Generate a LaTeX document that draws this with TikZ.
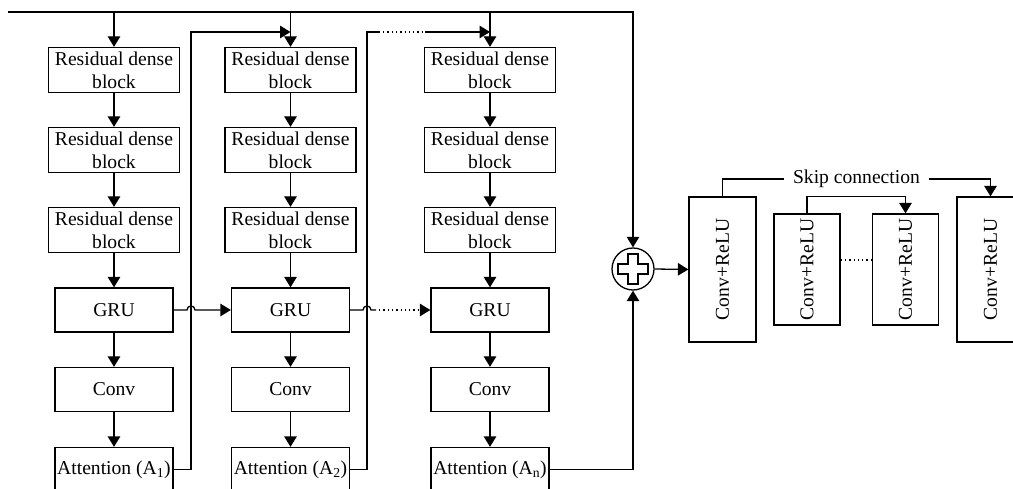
\documentclass[tikz,border=0pt]{standalone}
\usepackage{fontspec}
\setmainfont{Liberation Serif}
\usepackage{graphicx}
\usetikzlibrary{arrows.meta}
\begin{document}
\begin{tikzpicture}[x=1pt,y=-1pt, line width=1.3pt,
  >={Triangle[length=10.5pt,width=12.5pt]},
  box/.style={draw, line width=1.3pt, inner sep=0pt, align=center, font=\fontsize{19.6}{23}\selectfont},
  rdb/.style={box, minimum width=131pt, minimum height=45pt},
  blk/.style={box, minimum width=118pt, minimum height=44pt},
  vbig/.style={box, minimum width=67pt, minimum height=145pt},
  vsmall/.style={box, minimum width=66pt, minimum height=111pt},
  dots/.style={dash pattern=on 1.3pt off 3pt},
  lbl/.style={font=\fontsize{19.6}{23}\selectfont, inner sep=0pt}]
\clip (0,0) rectangle (1013,489);
% columns
\foreach \c/\x in {1/114,2/290.5,3/490}{
  \node[rdb] (r\c1) at (\x,70) {Residual dense\\block};
  \node[rdb] (r\c2) at (\x,150) {Residual dense\\block};
  \node[rdb] (r\c3) at (\x,230) {Residual dense\\block};
  \node[blk] (g\c) at (\x,310) {GRU};
  \node[blk] (c\c) at (\x,389.5) {Conv};
}
\node[blk] (a1) at (114,469.5) {Attention (A\textsubscript{1})};
\node[blk] (a2) at (290.5,469.5) {Attention (A\textsubscript{2})};
\node[blk] (a3) at (490,469.5) {Attention (A\textsubscript{n})};
\foreach \c in {1,2,3}{
  \draw[->] (r\c1) -- (r\c2);
  \draw[->] (r\c2) -- (r\c3);
  \draw[->] (r\c3) -- (g\c);
  \draw[->] (g\c) -- (c\c);
  \draw[->] (c\c) -- (a\c);
}
% adder
\node[circle, draw, line width=1.3pt, minimum size=42pt, inner sep=0pt] (plus) at (633,269) {};
\draw[line width=1.2pt, shift={(plus.center)}] (-5,-15) -- (5,-15) -- (5,-5) -- (15,-5) -- (15,5) -- (5,5) -- (5,15) -- (-5,15) -- (-5,5) -- (-15,5) -- (-15,-5) -- (-5,-5) -- cycle;
% top line
\coordinate (tl) at (8,12);
\draw[->] (tl) -| (plus);
\foreach \c in {1,2,3}{ \draw[->] (r\c1.north |- tl) -- (r\c1.north); }
% loops
\coordinate (lp1) at (191,32);
\coordinate (lp2) at (367,32);
\draw[->] (a1.east) -| (lp1) -- (lp1 -| r21.north);
\draw (a2.east) -| (lp2) -- (380,32);
\draw[dots] (383,32) -- (422,32);
\draw[->] (425,32) -- (lp2 -| r31.north);
% GRU chain
\draw[->] (g1.east) -- (187,310) .. controls (187,304.7) and (195,304.7) .. (195,310) -- (g2.west);
\draw (g2.east) -- (363,310) .. controls (363,304.7) and (371,304.7) .. (371,310) -- (376,310);
\coordinate (gd) at (420,310);
\draw[dots] (379,310) -- (gd);
\draw[->] (gd) -- (g3.west);
\draw[->] (a3.east) -| (plus.south);
% right part
\node[vbig] (v1) at (722.5,269.5) {\rotatebox{90}{Conv+ReLU}};
\node[vsmall] (v2) at (807,269.5) {\rotatebox{90}{Conv+ReLU}};
\node[vsmall] (v3) at (905.5,269.5) {\rotatebox{90}{Conv+ReLU}};
\node[vbig] (v4) at (990.5,269.5) {\rotatebox{90}{Conv+ReLU}};
\draw[->] (plus.east) -- (v1.west);
\node[lbl] (skip) at (856.5,179) {Skip connection};
\draw (v1.north) |- ([xshift=-8pt]skip.west);
\draw[->] ([xshift=8pt]skip.east) -| (v4.north);
\draw[->] (v2.north) -- ++(0,-17) -| (v3.north);
\draw[dots] (v2.east |- 0,260) -- (v3.west |- 0,260);
\end{tikzpicture}
\end{document}
